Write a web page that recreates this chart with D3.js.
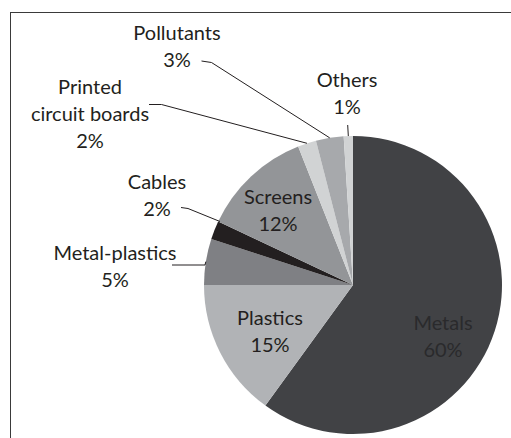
<!DOCTYPE html>
<html><head><meta charset="utf-8">
<script src="https://cdn.jsdelivr.net/npm/d3@7"></script>
<style>body{margin:0;background:#fff}svg{display:block}text{font-family:Lato,"Open Sans",sans-serif}</style>
</head><body><svg id="c" width="511" height="438"></svg>
<script>
const categories = ["Metals","Plastics","Metal-plastics","Cables","Screens","Printed circuit boards","Pollutants","Others"];
const values = [60,15,5,2,12,2,3,1];
const colors = ["#414245","#b1b3b6","#7f8084","#231f20","#939598","#d1d3d4","#a7a9ac","#d1d3d4"];

// label layout (text lines, anchor position, optional leader elbow)
const labelLayout = {
  "Metals": {lines:["Metals","60%"], x:443, y:330, fill:"#2a2a2c"},
  "Plastics": {lines:["Plastics","15%"], x:270, y:325},
  "Metal-plastics": {lines:["Metal-plastics","5%"], x:115, y:260, leader:[[172,265],[205,265]]},
  "Cables": {lines:["Cables","2%"], x:157, y:189, leader:[[181,207.5],[188,208.5]], end:[220,221.5]},
  "Screens": {lines:["Screens","12%"], x:278, y:204},
  "Printed circuit boards": {lines:["Printed","circuit boards","2%"], x:90, y:94, leader:[[149,104.5],[161.5,104.5]]},
  "Pollutants": {lines:["Pollutants","3%"], x:177, y:40, leader:[[201.5,61],[211.5,62.5]]},
  "Others": {lines:["Others","1%"], x:347, y:87, leader:[[347.7,125]]}
};

const svg = d3.select("#c");
const cx = 353, cy = 285, r = 149;
svg.append("rect").attr("x",10.5).attr("y",12.5).attr("width",520).attr("height",440)
  .attr("fill","none").attr("stroke","#3a3a3a").attr("stroke-width",1);

const data = categories.map((c,i)=>({name:c, value:values[i], color:colors[i]}));
const pie = d3.pie().value(d=>d.value).sort(null);
const arcs = pie(data);
const arc = d3.arc().innerRadius(0).outerRadius(r);
const g = svg.append("g").attr("transform",`translate(${cx},${cy})`);
g.selectAll("path").data(arcs).join("path").attr("d",arc).attr("fill",d=>d.data.color);

const lh = 27;
arcs.forEach(a=>{
  const L = labelLayout[a.data.name];
  const t = svg.append("text").attr("text-anchor","middle").attr("font-size",20)
    .attr("fill",L.fill||"#231f20");
  L.lines.forEach((ln,i)=>t.append("tspan").attr("x",L.x).attr("y",L.y+i*lh).text(ln));
  if(L.leader){
    const mid=(a.startAngle+a.endAngle)/2;
    const end = L.end || [cx+r*Math.sin(mid), cy-r*Math.cos(mid)];
    const pts = L.leader.concat([end]);
    svg.append("path").attr("d",d3.line()(pts)).attr("fill","none").attr("stroke","#231f20").attr("stroke-width",1);
  }
});
</script></body></html>
